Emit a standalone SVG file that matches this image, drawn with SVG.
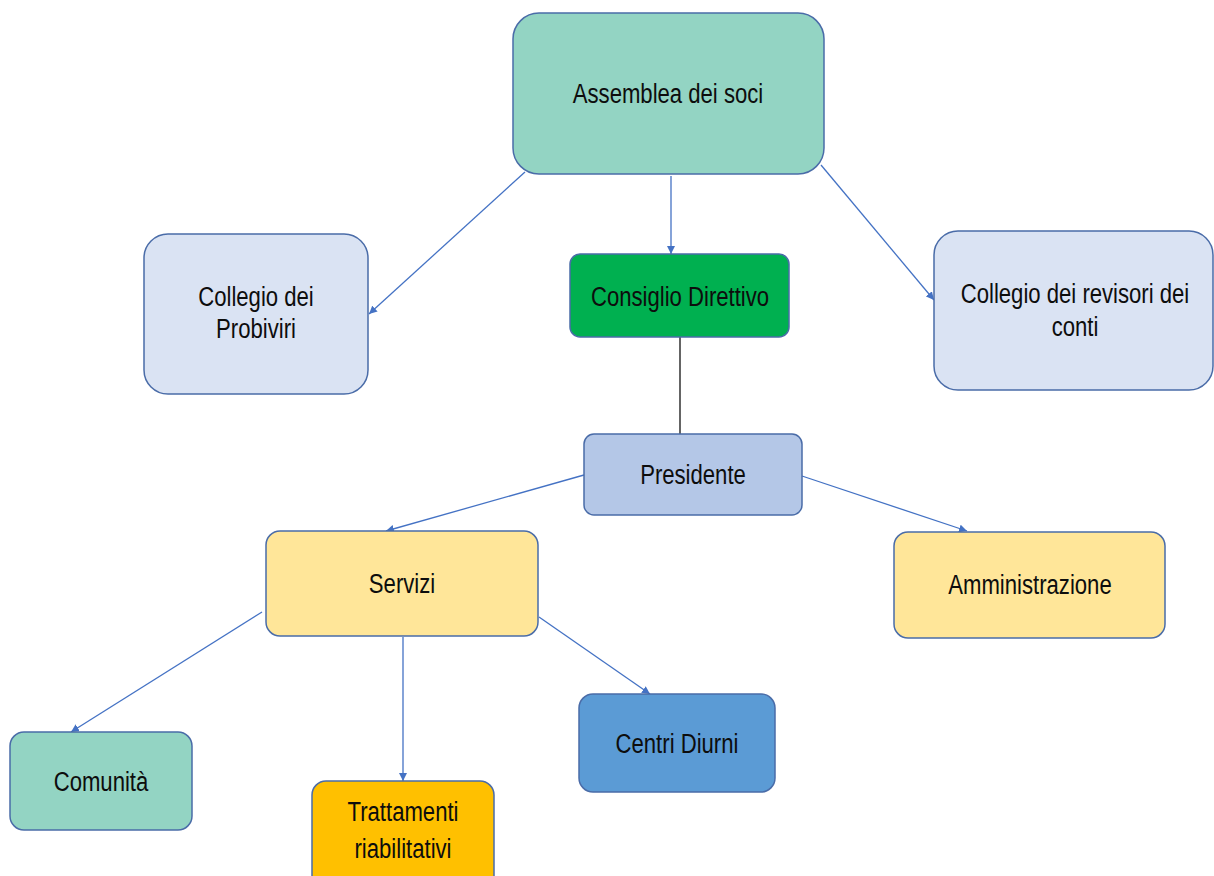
<svg xmlns="http://www.w3.org/2000/svg" width="1214" height="876" viewBox="0 0 1214 876">
<style>
.box{stroke:#4A6CA8;stroke-width:1.5}
.lbl{font-family:"Liberation Sans",Arial,sans-serif;font-size:28px;fill:#0d0d0d;text-anchor:middle}
.con{stroke:#4472C4;stroke-width:1.3;fill:none;marker-end:url(#ah)}
</style>
<defs>
<marker id="ah" viewBox="0 0 10 10" refX="10" refY="5" markerWidth="8" markerHeight="8" markerUnits="userSpaceOnUse" orient="auto">
<path d="M0,0 L10,5 L0,10 z" fill="#4472C4"/>
</marker>
</defs>
<rect width="1214" height="876" fill="#fff"/>
<g id="connectors">
<line class="con" x1="525" y1="172" x2="369" y2="314"/>
<line class="con" x1="671" y1="176" x2="671" y2="254"/>
<line class="con" x1="821" y1="165" x2="934" y2="300"/>
<line x1="680" y1="337" x2="680" y2="434" stroke="#111" stroke-width="1.3"/>
<line class="con" x1="584" y1="475" x2="386" y2="531"/>
<line class="con" x1="802" y1="476" x2="967" y2="531"/>
<line class="con" x1="262" y1="612" x2="71" y2="732"/>
<line class="con" x1="403" y1="637" x2="403" y2="781"/>
<line class="con" x1="539" y1="617" x2="650" y2="694"/>
</g>
<g id="assemblea">
<rect class="box" x="513" y="13" width="311" height="161" rx="26" fill="#93D4C3"/>
<text class="lbl" transform="translate(668,103) scale(0.79,1)">Assemblea dei soci</text>
</g>
<g id="consiglio">
<rect class="box" x="570" y="254" width="219" height="83" rx="10" fill="#00B050"/>
<text class="lbl" transform="translate(680,306) scale(0.79,1)">Consiglio Direttivo</text>
</g>
<g id="probiviri">
<rect class="box" x="144" y="234" width="224" height="160" rx="24" fill="#DAE3F3"/>
<text class="lbl" transform="translate(256,306) scale(0.79,1)">Collegio dei</text>
<text class="lbl" transform="translate(256,338) scale(0.79,1)">Probiviri</text>
</g>
<g id="revisori">
<rect class="box" x="934" y="231" width="279" height="159" rx="24" fill="#DAE3F3"/>
<text class="lbl" transform="translate(1075,303) scale(0.79,1)">Collegio dei revisori dei</text>
<text class="lbl" transform="translate(1075,336) scale(0.79,1)">conti</text>
</g>
<g id="presidente">
<rect class="box" x="584" y="434" width="218" height="81" rx="10" fill="#B4C7E7"/>
<text class="lbl" transform="translate(693,484) scale(0.79,1)">Presidente</text>
</g>
<g id="servizi">
<rect class="box" x="266" y="531" width="272" height="105" rx="14" fill="#FFE699"/>
<text class="lbl" transform="translate(402,593) scale(0.79,1)">Servizi</text>
</g>
<g id="amministrazione">
<rect class="box" x="894" y="532" width="271" height="106" rx="14" fill="#FFE699"/>
<text class="lbl" transform="translate(1030,594) scale(0.79,1)">Amministrazione</text>
</g>
<g id="comunita">
<rect class="box" x="10" y="732" width="182" height="98" rx="14" fill="#93D4C3"/>
<text class="lbl" transform="translate(101,791) scale(0.79,1)">Comunità</text>
</g>
<g id="trattamenti">
<rect class="box" x="312" y="781" width="182" height="110" rx="14" fill="#FFC000"/>
<text class="lbl" transform="translate(403,821) scale(0.79,1)">Trattamenti</text>
<text class="lbl" transform="translate(403,858) scale(0.79,1)">riabilitativi</text>
</g>
<g id="centri">
<rect class="box" x="579" y="694" width="196" height="98" rx="14" fill="#5B9BD5"/>
<text class="lbl" transform="translate(677,753) scale(0.79,1)">Centri Diurni</text>
</g>
</svg>
